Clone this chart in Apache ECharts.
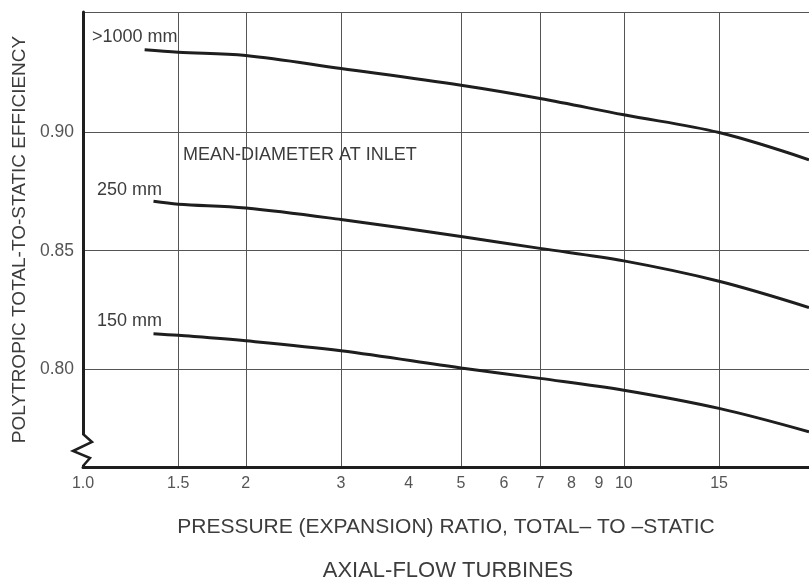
<!DOCTYPE html>
<html>
<head>
<meta charset="utf-8">
<script src="https://cdn.jsdelivr.net/npm/echarts@6/dist/echarts.min.js"></script>
<style>html,body{margin:0;padding:0;background:#fff}#c{width:809px;height:581px}</style>
</head>
<body>
<div id="c"></div>
<script>
// Pressure ratio (x) and efficiency (y)
const xLarge = [1.3, 1.5, 2, 3, 5, 7, 10, 15, 22];
const yLarge = [0.935, 0.934, 0.9326, 0.9271, 0.920, 0.9144, 0.9075, 0.900, 0.8885];
const xMid = [1.35, 1.5, 2, 3, 5, 7, 10, 15, 22];
const yMid = [0.8709, 0.8697, 0.8681, 0.8632, 0.856, 0.851, 0.8457, 0.8371, 0.826];
const xSmall = [1.35, 1.5, 2, 3, 5, 7, 10, 15, 22];
const ySmall = [0.8149, 0.8142, 0.8119, 0.8077, 0.8004, 0.7960, 0.791, 0.7833, 0.7734];
const seriesNames = ['>1000 mm', '250 mm', '150 mm'];
const xTickLabels = [1, 1.5, 2, 3, 4, 5, 6, 7, 8, 9, 10, 15];
const xGridValues = [1, 1.5, 2, 3, 5, 7, 10, 15];
const yTickLabels = [0.80, 0.85, 0.90];
const yGridValues = [0.80, 0.85, 0.90, 0.951];

const FONT = '"Liberation Sans", Arial, sans-serif';
const TXT = '#3c3c3c';
const chart = echarts.init(document.getElementById('c'));
const pairs = (xs, ys) => xs.map((x, i) => [x, ys[i]]);
const lineSeries = (name, data) => ({
  name, type: 'line', data, smooth: 0.35, showSymbol: false, symbol: 'none',
  lineStyle: { color: '#1e1e1e', width: 3 }, z: 5
});
chart.setOption({
  animation: false,
  backgroundColor: '#fff',
  grid: { left: 83, right: 0, top: 12, bottom: 114 },
  title: {
    text: 'AXIAL-FLOW TURBINES', left: 443, textAlign: 'center', top: 555,
    textStyle: { fontFamily: FONT, fontSize: 22, fontWeight: 'normal', color: TXT }
  },
  xAxis: {
    type: 'log', logBase: 10, min: 1, max: 22,
    name: 'PRESSURE (EXPANSION) RATIO, TOTAL\u2013 TO \u2013STATIC',
    nameLocation: 'middle', nameGap: 50,
    nameTextStyle: { fontFamily: FONT, fontSize: 21, color: TXT },
    axisLine: { show: true, lineStyle: { color: '#1e1e1e', width: 3 } },
    axisTick: { show: false, customValues: xGridValues },
    axisLabel: {
      customValues: xTickLabels, margin: 9,
      fontFamily: FONT, fontSize: 16, color: '#555',
      formatter: v => (v === 1 ? '1.0' : String(v))
    },
    splitLine: { show: true, lineStyle: { color: '#555', width: 1 } },
    minorTick: { show: false }, minorSplitLine: { show: false }
  },
  yAxis: {
    type: 'value', min: 0.7585, max: 0.951,
    name: 'POLYTROPIC TOTAL-TO-STATIC EFFICIENCY',
    nameLocation: 'middle', nameGap: 52, nameRotate: 90,
    nameTextStyle: { fontFamily: FONT, fontSize: 19, color: TXT },
    axisLine: { show: true, lineStyle: { color: '#1e1e1e', width: 3 } },
    axisTick: { show: false, customValues: yGridValues },
    axisLabel: {
      customValues: yTickLabels, margin: 9,
      fontFamily: FONT, fontSize: 17.5, color: '#555',
      formatter: v => v.toFixed(2)
    },
    splitLine: { show: true, lineStyle: { color: '#555', width: 1 } }
  },
  series: [
    lineSeries(seriesNames[0], pairs(xLarge, yLarge)),
    lineSeries(seriesNames[1], pairs(xMid, yMid)),
    lineSeries(seriesNames[2], pairs(xSmall, ySmall))
  ],
  graphic: [
    { type: 'text', left: 92, top: 28, z: 10, style: { text: seriesNames[0], font: '18px ' + FONT, fill: TXT } },
    { type: 'text', left: 97, top: 181, z: 10, style: { text: seriesNames[1], font: '18px ' + FONT, fill: TXT } },
    { type: 'text', left: 97, top: 312, z: 10, style: { text: seriesNames[2], font: '18px ' + FONT, fill: TXT } },
    { type: 'text', left: 183, top: 146, z: 10, style: { text: 'MEAN-DIAMETER AT INLET', font: '18px ' + FONT, fill: TXT } },
    { type: 'rect', z: 20, shape: { x: 80, y: 435, width: 7, height: 30 }, style: { fill: '#fff' } },
    { type: 'polyline', z: 21, shape: { points: [[83, 434], [92, 442], [73, 451], [90, 458], [83, 466]] },
      style: { stroke: '#1e1e1e', lineWidth: 2.5, fill: null } }
  ]
});
</script>
</body>
</html>
